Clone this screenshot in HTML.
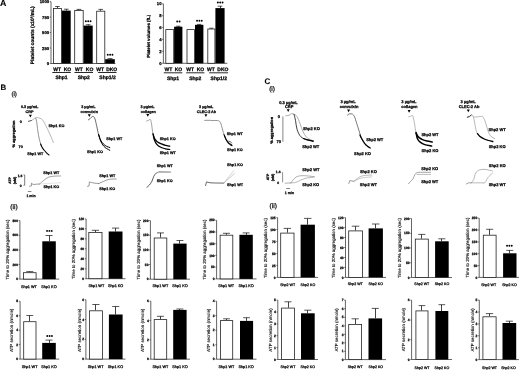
<!DOCTYPE html>
<html><head><meta charset="utf-8"><title>Figure</title>
<style>
html,body{margin:0;padding:0;background:#fff;width:520px;height:370px;overflow:hidden}
svg{display:block;will-change:transform;filter:blur(0.35px)}
text{font-family:"Liberation Sans", sans-serif;stroke:#000;stroke-width:0.25px;stroke-linejoin:round;text-rendering:geometricPrecision}
</style></head>
<body>
<svg width="520" height="370" viewBox="0 0 520 370" style='font-family:"Liberation Sans", sans-serif'>
<rect x="0" y="0" width="520" height="370" fill="#fff"/>
<text x="3.1" y="6.17" font-size="8.8" text-anchor="middle" font-weight="bold" fill="#000" style="stroke-width:0.1px">A</text>
<line x1="51" y1="1.6" x2="51" y2="63.5" stroke="#222" stroke-width="0.7"/>
<line x1="51" y1="63.5" x2="115.4" y2="63.5" stroke="#222" stroke-width="0.7"/>
<line x1="49.7" y1="1.6" x2="51" y2="1.6" stroke="#222" stroke-width="0.6"/>
<text x="49.1" y="3.11" font-size="4.2" text-anchor="end" font-weight="bold" fill="#000">1000</text>
<line x1="49.7" y1="17" x2="51" y2="17" stroke="#222" stroke-width="0.6"/>
<text x="49.1" y="18.51" font-size="4.2" text-anchor="end" font-weight="bold" fill="#000">750</text>
<line x1="49.7" y1="32.5" x2="51" y2="32.5" stroke="#222" stroke-width="0.6"/>
<text x="49.1" y="34.01" font-size="4.2" text-anchor="end" font-weight="bold" fill="#000">500</text>
<line x1="49.7" y1="48" x2="51" y2="48" stroke="#222" stroke-width="0.6"/>
<text x="49.1" y="49.51" font-size="4.2" text-anchor="end" font-weight="bold" fill="#000">250</text>
<line x1="49.7" y1="63.5" x2="51" y2="63.5" stroke="#222" stroke-width="0.6"/>
<text x="49.1" y="65.01" font-size="4.2" text-anchor="end" font-weight="bold" fill="#000">0</text>
<line x1="57.5" y1="6.5" x2="57.5" y2="8.1" stroke="#111" stroke-width="0.8"/>
<line x1="55.19" y1="6.5" x2="59.71" y2="6.5" stroke="#111" stroke-width="0.7"/>
<rect x="53.5" y="8.5" width="7.9" height="55" fill="#fff" stroke="#222" stroke-width="0.8"/>
<line x1="66.5" y1="9.2" x2="66.5" y2="10.6" stroke="#111" stroke-width="0.8"/>
<line x1="63.94" y1="9.2" x2="68.56" y2="9.2" stroke="#111" stroke-width="0.7"/>
<rect x="61.8" y="10.6" width="8.9" height="52.9" fill="#000"/>
<line x1="78.5" y1="9.4" x2="78.5" y2="10.1" stroke="#111" stroke-width="0.8"/>
<line x1="76.53" y1="9.4" x2="81.37" y2="9.4" stroke="#111" stroke-width="0.7"/>
<rect x="74.7" y="10.5" width="8.5" height="53" fill="#fff" stroke="#222" stroke-width="0.8"/>
<line x1="88.5" y1="24.7" x2="88.5" y2="25.6" stroke="#111" stroke-width="0.8"/>
<line x1="85.78" y1="24.7" x2="90.52" y2="24.7" stroke="#111" stroke-width="0.7"/>
<rect x="83.6" y="25.6" width="9.1" height="37.9" fill="#000"/>
<line x1="100.5" y1="9.4" x2="100.5" y2="10.8" stroke="#111" stroke-width="0.8"/>
<line x1="98.44" y1="9.4" x2="103.06" y2="9.4" stroke="#111" stroke-width="0.7"/>
<rect x="96.7" y="11.2" width="8.1" height="52.3" fill="#fff" stroke="#222" stroke-width="0.8"/>
<line x1="110.5" y1="58.6" x2="110.5" y2="59.2" stroke="#111" stroke-width="0.8"/>
<line x1="107.5" y1="58.6" x2="112.5" y2="58.6" stroke="#111" stroke-width="0.7"/>
<rect x="105.2" y="59.2" width="9.6" height="4.3" fill="#000"/>
<circle cx="85.85" cy="21.3" r="0.95" fill="#000"/>
<circle cx="88.2" cy="21.3" r="0.95" fill="#000"/>
<circle cx="90.55" cy="21.3" r="0.95" fill="#000"/>
<circle cx="107.75" cy="54.7" r="0.95" fill="#000"/>
<circle cx="110.1" cy="54.7" r="0.95" fill="#000"/>
<circle cx="112.45" cy="54.7" r="0.95" fill="#000"/>
<text transform="translate(34.16 35.2) rotate(-90)" x="0" y="0" font-size="4.9" text-anchor="middle" font-weight="bold" fill="#000">Platelet counts (x10³/mL)</text>
<line x1="163.4" y1="3.8" x2="163.4" y2="63.3" stroke="#222" stroke-width="0.7"/>
<line x1="163.4" y1="63.3" x2="227.3" y2="63.3" stroke="#222" stroke-width="0.7"/>
<line x1="162.1" y1="3.8" x2="163.4" y2="3.8" stroke="#222" stroke-width="0.6"/>
<text x="161.5" y="5.31" font-size="4.2" text-anchor="end" font-weight="bold" fill="#000">10</text>
<line x1="162.1" y1="15.7" x2="163.4" y2="15.7" stroke="#222" stroke-width="0.6"/>
<text x="161.5" y="17.21" font-size="4.2" text-anchor="end" font-weight="bold" fill="#000">8</text>
<line x1="162.1" y1="27.5" x2="163.4" y2="27.5" stroke="#222" stroke-width="0.6"/>
<text x="161.5" y="29.01" font-size="4.2" text-anchor="end" font-weight="bold" fill="#000">6</text>
<line x1="162.1" y1="39.4" x2="163.4" y2="39.4" stroke="#222" stroke-width="0.6"/>
<text x="161.5" y="40.91" font-size="4.2" text-anchor="end" font-weight="bold" fill="#000">4</text>
<line x1="162.1" y1="51.3" x2="163.4" y2="51.3" stroke="#222" stroke-width="0.6"/>
<text x="161.5" y="52.81" font-size="4.2" text-anchor="end" font-weight="bold" fill="#000">2</text>
<line x1="162.1" y1="63.3" x2="163.4" y2="63.3" stroke="#222" stroke-width="0.6"/>
<text x="161.5" y="64.81" font-size="4.2" text-anchor="end" font-weight="bold" fill="#000">0</text>
<rect x="165.8" y="29.6" width="7.9" height="33.7" fill="#fff" stroke="#222" stroke-width="0.8"/>
<line x1="178.5" y1="26.2" x2="178.5" y2="26.7" stroke="#111" stroke-width="0.8"/>
<line x1="176.09" y1="26.2" x2="180.41" y2="26.2" stroke="#111" stroke-width="0.7"/>
<rect x="174.1" y="26.7" width="8.3" height="36.6" fill="#000"/>
<rect x="187" y="29.6" width="7.5" height="33.7" fill="#fff" stroke="#222" stroke-width="0.8"/>
<line x1="199.5" y1="24.4" x2="199.5" y2="24.8" stroke="#111" stroke-width="0.8"/>
<line x1="197.02" y1="24.4" x2="201.38" y2="24.4" stroke="#111" stroke-width="0.7"/>
<rect x="195" y="24.8" width="8.4" height="38.5" fill="#000"/>
<line x1="211.5" y1="28.2" x2="211.5" y2="28.6" stroke="#111" stroke-width="0.8"/>
<line x1="209.3" y1="28.2" x2="213.4" y2="28.2" stroke="#111" stroke-width="0.7"/>
<rect x="207.8" y="29" width="7.1" height="34.3" fill="#fff" stroke="#222" stroke-width="0.8"/>
<line x1="220.5" y1="6.2" x2="220.5" y2="8.1" stroke="#111" stroke-width="0.8"/>
<line x1="217.61" y1="6.2" x2="222.39" y2="6.2" stroke="#111" stroke-width="0.7"/>
<rect x="215.4" y="8.1" width="9.2" height="55.2" fill="#000"/>
<circle cx="177.22" cy="21.5" r="0.95" fill="#000"/>
<circle cx="179.58" cy="21.5" r="0.95" fill="#000"/>
<circle cx="197.05" cy="20.8" r="0.95" fill="#000"/>
<circle cx="199.4" cy="20.8" r="0.95" fill="#000"/>
<circle cx="201.75" cy="20.8" r="0.95" fill="#000"/>
<circle cx="217.85" cy="2.5" r="0.95" fill="#000"/>
<circle cx="220.2" cy="2.5" r="0.95" fill="#000"/>
<circle cx="222.55" cy="2.5" r="0.95" fill="#000"/>
<text transform="translate(150.18 36.3) rotate(-90)" x="0" y="0" font-size="4.4" text-anchor="middle" font-weight="bold" fill="#000">Platelet volumes (fL)</text>
<text x="57.1" y="70.8" font-size="5" text-anchor="middle" font-weight="bold" fill="#000">WT</text>
<text x="67.5" y="70.8" font-size="5" text-anchor="middle" font-weight="bold" fill="#000">KO</text>
<text x="79" y="70.8" font-size="5" text-anchor="middle" font-weight="bold" fill="#000">WT</text>
<text x="89.6" y="70.8" font-size="5" text-anchor="middle" font-weight="bold" fill="#000">KO</text>
<text x="100.2" y="70.8" font-size="5" text-anchor="middle" font-weight="bold" fill="#000">WT</text>
<text x="111.7" y="70.8" font-size="5" text-anchor="middle" font-weight="bold" fill="#000">DKO</text>
<line x1="52.3" y1="72.5" x2="70.8" y2="72.5" stroke="#111" stroke-width="0.9"/>
<line x1="74.5" y1="72.5" x2="93" y2="72.5" stroke="#111" stroke-width="0.9"/>
<line x1="98.1" y1="72.5" x2="116.5" y2="72.5" stroke="#111" stroke-width="0.9"/>
<text x="61.5" y="79.3" font-size="5" text-anchor="middle" font-weight="bold" fill="#000">Shp1</text>
<text x="83.8" y="79.3" font-size="5" text-anchor="middle" font-weight="bold" fill="#000">Shp2</text>
<text x="107.5" y="79.3" font-size="5" text-anchor="middle" font-weight="bold" fill="#000">Shp1/2</text>
<text x="168.5" y="70.7" font-size="5" text-anchor="middle" font-weight="bold" fill="#000">WT</text>
<text x="178.5" y="70.7" font-size="5" text-anchor="middle" font-weight="bold" fill="#000">KO</text>
<text x="190.2" y="70.7" font-size="5" text-anchor="middle" font-weight="bold" fill="#000">WT</text>
<text x="200.5" y="70.7" font-size="5" text-anchor="middle" font-weight="bold" fill="#000">KO</text>
<text x="211" y="70.7" font-size="5" text-anchor="middle" font-weight="bold" fill="#000">WT</text>
<text x="222.9" y="70.7" font-size="5" text-anchor="middle" font-weight="bold" fill="#000">DKO</text>
<line x1="163.8" y1="72.8" x2="182.3" y2="72.8" stroke="#111" stroke-width="0.9"/>
<line x1="186.2" y1="72.8" x2="204.4" y2="72.8" stroke="#111" stroke-width="0.9"/>
<line x1="209.2" y1="72.8" x2="228.1" y2="72.8" stroke="#111" stroke-width="0.9"/>
<text x="173" y="79.5" font-size="5" text-anchor="middle" font-weight="bold" fill="#000">Shp1</text>
<text x="195.3" y="79.5" font-size="5" text-anchor="middle" font-weight="bold" fill="#000">Shp2</text>
<text x="218.8" y="79.5" font-size="5" text-anchor="middle" font-weight="bold" fill="#000">Shp1/2</text>
<text x="3.45" y="89.64" font-size="7.9" text-anchor="middle" font-weight="bold" fill="#000" style="stroke-width:0.1px">B</text>
<text x="14.2" y="96.21" font-size="6.2" text-anchor="middle" font-weight="normal" fill="#222" style="stroke:#222;stroke-width:0.3px">(i)</text>
<text x="29.6" y="108.25" font-size="3.75" text-anchor="middle" font-weight="bold" fill="#000">0.3 µg/mL</text>
<text x="29.5" y="112.95" font-size="3.75" text-anchor="middle" font-weight="bold" fill="#000">CRP</text>
<path d="M28.9 114.85 L31.9 114.85 L30.4 117.55 Z" fill="#000"/>
<text x="20.7" y="122.85" font-size="3.75" text-anchor="middle" font-weight="bold" fill="#000">0</text>
<text x="20.7" y="147.55" font-size="3.75" text-anchor="middle" font-weight="bold" fill="#000">70</text>
<text transform="translate(14.7 134) rotate(-90)" x="0" y="0" font-size="3.9" text-anchor="middle" font-weight="bold" fill="#000">% aggregation</text>
<path d="M28.5 121.3 L31.6 120.5" fill="none" stroke="#222" stroke-width="0.8" stroke-linecap="round" stroke-linejoin="round"/>
<path d="M31.6 120.5 C32.08 120.18 33.57 119.08 34.5 118.6 C35.43 118.12 36.28 117.65 37.2 117.6 C38.12 117.55 39.17 117.98 40 118.3 C40.83 118.62 41.45 118.72 42.2 119.5 C42.95 120.28 43.78 121.75 44.5 123 C45.22 124.25 45.53 125 46.5 127 C47.47 129 49.15 132.42 50.3 135 C51.45 137.58 52.88 141.25 53.4 142.5" fill="none" stroke="#999" stroke-width="0.7" stroke-linecap="round" stroke-linejoin="round"/>
<path d="M35.5 118 C35.68 118.55 36.22 119.18 36.6 121.3 C36.98 123.42 37.38 127.88 37.8 130.7 C38.22 133.52 38.57 135.82 39.1 138.2 C39.63 140.58 40.68 143.87 41 145" fill="none" stroke="#666" stroke-width="0.7" stroke-linecap="round" stroke-linejoin="round"/>
<path d="M40.6 144 C40.87 144.6 41.63 146.6 42.2 147.6 C42.77 148.6 43.28 149.13 44 150 C44.72 150.87 45.67 151.97 46.5 152.8 C47.33 153.63 48.58 154.63 49 155" fill="none" stroke="#000" stroke-width="1.1" stroke-linecap="round" stroke-linejoin="round"/>
<text x="56.4" y="126.95" font-size="3.75" text-anchor="middle" font-weight="bold" fill="#000">Shp1 KO</text>
<text x="35.3" y="154.75" font-size="3.75" text-anchor="middle" font-weight="bold" fill="#000">Shp1 WT</text>
<text x="88.3" y="108.35" font-size="3.75" text-anchor="middle" font-weight="bold" fill="#000">3 µg/mL</text>
<text x="89.2" y="112.95" font-size="3.75" text-anchor="middle" font-weight="bold" fill="#000">convulxin</text>
<path d="M87.8 114.25 L90.8 114.25 L89.3 116.95 Z" fill="#000"/>
<path d="M88.3 119.9 C88.62 119.68 89.48 119.18 90.2 118.6 C90.92 118.02 91.87 116.52 92.6 116.4 C93.33 116.28 93.97 116.53 94.6 117.9 C95.23 119.27 95.8 122.07 96.4 124.6 C97 127.13 97.67 130.95 98.2 133.1 C98.73 135.25 99.37 136.77 99.6 137.5" fill="none" stroke="#444" stroke-width="0.8" stroke-linecap="round" stroke-linejoin="round"/>
<path d="M98.6 134.5 C98.95 135.45 99.88 138.6 100.7 140.2 C101.52 141.8 102.53 143.08 103.5 144.1 C104.47 145.12 105.45 145.73 106.5 146.3 C107.55 146.87 109.25 147.3 109.8 147.5" fill="none" stroke="#000" stroke-width="1" stroke-linecap="round" stroke-linejoin="round"/>
<path d="M98.6 134.5 C98.93 135.58 99.77 139.08 100.6 141 C101.43 142.92 102.58 144.73 103.6 146 C104.62 147.27 105.67 147.88 106.7 148.6 C107.73 149.32 109.28 150.02 109.8 150.3" fill="none" stroke="#000" stroke-width="1" stroke-linecap="round" stroke-linejoin="round"/>
<text x="114.2" y="139.75" font-size="3.75" text-anchor="middle" font-weight="bold" fill="#000">Shp1 WT</text>
<text x="94.9" y="153.45" font-size="3.75" text-anchor="middle" font-weight="bold" fill="#000">Shp1 KO</text>
<text x="147.5" y="108.35" font-size="3.75" text-anchor="middle" font-weight="bold" fill="#000">3 µg/mL</text>
<text x="148.3" y="112.65" font-size="3.75" text-anchor="middle" font-weight="bold" fill="#000">collagen</text>
<path d="M146.3 114.05 L149.3 114.05 L147.8 116.75 Z" fill="#000"/>
<path d="M146.7 121 C147.02 120.88 148 120.57 148.6 120.3 C149.2 120.03 149.85 119.03 150.3 119.4 C150.75 119.77 151.03 121.32 151.3 122.5 C151.57 123.68 151.65 124.73 151.9 126.5 C152.15 128.27 152.48 131.43 152.8 133.1 C153.12 134.77 153.63 135.93 153.8 136.5" fill="none" stroke="#777" stroke-width="0.7" stroke-linecap="round" stroke-linejoin="round"/>
<path d="M153 133.5 C153.2 134.5 153.57 137.7 154.2 139.5 C154.83 141.3 155.7 143 156.8 144.3 C157.9 145.6 159.38 146.55 160.8 147.3 C162.22 148.05 163.8 148.43 165.3 148.8 C166.8 149.17 169.05 149.38 169.8 149.5" fill="none" stroke="#000" stroke-width="1.2" stroke-linecap="round" stroke-linejoin="round"/>
<path d="M153.3 134.5 C153.52 135.18 153.95 137.4 154.6 138.6 C155.25 139.8 156.05 140.82 157.2 141.7 C158.35 142.58 160.12 143.28 161.5 143.9 C162.88 144.52 164.12 145.02 165.5 145.4 C166.88 145.78 169.08 146.07 169.8 146.2" fill="none" stroke="#000" stroke-width="1.2" stroke-linecap="round" stroke-linejoin="round"/>
<text x="167.7" y="140.35" font-size="3.75" text-anchor="middle" font-weight="bold" fill="#000">Shp1 KO</text>
<text x="167.7" y="153.95" font-size="3.75" text-anchor="middle" font-weight="bold" fill="#000">Shp1 WT</text>
<text x="206.2" y="108.35" font-size="3.75" text-anchor="middle" font-weight="bold" fill="#000">3 µg/mL</text>
<text x="206.4" y="112.65" font-size="3.75" text-anchor="middle" font-weight="bold" fill="#000">CLEC-2 Ab</text>
<path d="M204.4 114.25 L207.4 114.25 L205.9 116.95 Z" fill="#000"/>
<path d="M204.7 120.4 C205.25 120.38 206.62 120.28 208 120.3 C209.38 120.32 211.22 120.42 213 120.5 C214.78 120.58 217.4 120.3 218.7 120.8 C220 121.3 220.25 122.38 220.8 123.5 C221.35 124.62 221.57 126 222 127.5 C222.43 129 222.97 131.08 223.4 132.5 C223.83 133.92 224.4 135.42 224.6 136" fill="none" stroke="#777" stroke-width="0.8" stroke-linecap="round" stroke-linejoin="round"/>
<path d="M224 134.5 C224.23 135.08 224.82 136.83 225.4 138 C225.98 139.17 226.77 140.57 227.5 141.5 C228.23 142.43 229.05 143.02 229.8 143.6 C230.55 144.18 231.63 144.77 232 145" fill="none" stroke="#111" stroke-width="1" stroke-linecap="round" stroke-linejoin="round"/>
<path d="M224.4 135.5 C224.7 136.22 225.5 138.48 226.2 139.8 C226.9 141.12 227.65 142.43 228.6 143.4 C229.55 144.37 231.35 145.23 231.9 145.6" fill="none" stroke="#000" stroke-width="1.1" stroke-linecap="round" stroke-linejoin="round"/>
<path d="M228.5 141.2 L230.4 141.6 L231.6 143" fill="none" stroke="#000" stroke-width="0.6" stroke-linecap="round" stroke-linejoin="round"/>
<text x="234.7" y="135.05" font-size="3.75" text-anchor="middle" font-weight="bold" fill="#000">Shp1 WT</text>
<text x="234.8" y="150.85" font-size="3.75" text-anchor="middle" font-weight="bold" fill="#000">Shp1 KO</text>
<text transform="translate(11.42 180.5) rotate(-90)" x="0" y="0" font-size="3.4" text-anchor="middle" font-weight="bold" fill="#000">ATP</text>
<text transform="translate(16.2 180.5) rotate(-90)" x="0" y="0" font-size="3.6" text-anchor="middle" font-weight="bold" fill="#000">(nM)</text>
<text x="20.1" y="176.52" font-size="3.4" text-anchor="middle" font-weight="bold" fill="#000">1.6</text>
<text x="20.6" y="186.82" font-size="3.4" text-anchor="middle" font-weight="bold" fill="#000">0</text>
<line x1="24.7" y1="174.9" x2="24.7" y2="185.3" stroke="#222" stroke-width="0.6"/>
<line x1="23.4" y1="174.9" x2="24.7" y2="174.9" stroke="#222" stroke-width="0.5"/>
<line x1="23.4" y1="185.3" x2="24.7" y2="185.3" stroke="#222" stroke-width="0.5"/>
<line x1="27.9" y1="191.5" x2="31.4" y2="191.5" stroke="#333" stroke-width="0.6"/>
<text x="31" y="196.96" font-size="3.5" text-anchor="middle" font-weight="bold" fill="#000">1 min</text>
<path d="M29.5 186.2 L31.4 186 L31.5 183.2 L33.1 184.5 L36.5 184.2 L39.6 184" fill="none" stroke="#555" stroke-width="0.6" stroke-linecap="round" stroke-linejoin="round"/>
<path d="M39.6 184 C40.28 183.4 42.22 181.53 43.7 180.4 C45.18 179.27 46.78 177.9 48.5 177.2 C50.22 176.5 51.97 176.4 54 176.2 C56.03 176 59.58 176.03 60.7 176" fill="none" stroke="#666" stroke-width="0.6" stroke-linecap="round" stroke-linejoin="round"/>
<path d="M39.6 184 C40.95 183.92 44.18 183.7 47.7 183.5 C51.22 183.3 58.53 182.92 60.7 182.8" fill="none" stroke="#c8c8c8" stroke-width="0.5" stroke-linecap="round" stroke-linejoin="round"/>
<text x="51.3" y="174.05" font-size="3.75" text-anchor="middle" font-weight="bold" fill="#000">Shp1 WT</text>
<text x="51.3" y="188.35" font-size="3.75" text-anchor="middle" font-weight="bold" fill="#000">Shp1 KO</text>
<path d="M87.5 186.3 L89 186 L89.4 181.9 L91.3 182.5 L95 183.2 L98.8 183.5" fill="none" stroke="#555" stroke-width="0.6" stroke-linecap="round" stroke-linejoin="round"/>
<path d="M98.8 183.5 C99.63 183.13 102.13 181.98 103.8 181.3 C105.47 180.62 106.72 179.78 108.8 179.4 C110.88 179.02 115.05 179.07 116.3 179" fill="none" stroke="#555" stroke-width="0.6" stroke-linecap="round" stroke-linejoin="round"/>
<text x="107.2" y="177.35" font-size="3.75" text-anchor="middle" font-weight="bold" fill="#000">Shp1 WT</text>
<text x="107.2" y="189.85" font-size="3.75" text-anchor="middle" font-weight="bold" fill="#000">Shp1 KO</text>
<path d="M146.9 187.3 C147.32 186.92 148.57 186 149.4 185 C150.23 184 151.17 182.75 151.9 181.3 C152.63 179.85 153.07 177.67 153.8 176.3 C154.53 174.93 155.27 173.83 156.3 173.1 C157.33 172.37 158.55 172.08 160 171.9 C161.45 171.72 163.23 171.93 165 172 C166.77 172.07 169.67 172.25 170.6 172.3" fill="none" stroke="#333" stroke-width="0.8" stroke-linecap="round" stroke-linejoin="round"/>
<path d="M158 172.5 C158.67 172.42 159.9 172.03 162 172 C164.1 171.97 169.17 172.25 170.6 172.3" fill="none" stroke="#bbb" stroke-width="1.4" stroke-linecap="round" stroke-linejoin="round"/>
<text x="164.7" y="167.35" font-size="3.75" text-anchor="middle" font-weight="bold" fill="#000">Shp1 WT</text>
<text x="164.7" y="182.35" font-size="3.75" text-anchor="middle" font-weight="bold" fill="#000">Shp1 KO</text>
<path d="M205.6 185.6 L206.5 181.9 L210 182.8 L216 183 L223.8 183.1" fill="none" stroke="#444" stroke-width="0.8" stroke-linecap="round" stroke-linejoin="round"/>
<path d="M223.8 183.1 L228.5 177 L233.8 170.6" fill="none" stroke="#aaa" stroke-width="0.5" stroke-linecap="round" stroke-linejoin="round"/>
<path d="M223.8 183.1 L229 178.3 L234.4 173.5" fill="none" stroke="#999" stroke-width="0.5" stroke-linecap="round" stroke-linejoin="round"/>
<text x="235" y="166.15" font-size="3.75" text-anchor="middle" font-weight="bold" fill="#000">Shp1 KO</text>
<text x="235" y="186.15" font-size="3.75" text-anchor="middle" font-weight="bold" fill="#000">Shp1 WT</text>
<text x="13.95" y="209.42" font-size="6.6" text-anchor="middle" font-weight="normal" fill="#222" style="stroke:#222;stroke-width:0.3px">(ii)</text>
<line x1="19.9" y1="220.6" x2="19.9" y2="279.1" stroke="#222" stroke-width="0.7"/>
<line x1="19.9" y1="279.1" x2="59.2" y2="279.1" stroke="#222" stroke-width="0.7"/>
<line x1="18.6" y1="220.6" x2="19.9" y2="220.6" stroke="#222" stroke-width="0.6"/>
<text x="18" y="221.79" font-size="3.3" text-anchor="end" font-weight="bold" fill="#000">800</text>
<line x1="18.6" y1="235.3" x2="19.9" y2="235.3" stroke="#222" stroke-width="0.6"/>
<text x="18" y="236.49" font-size="3.3" text-anchor="end" font-weight="bold" fill="#000">600</text>
<line x1="18.6" y1="249.9" x2="19.9" y2="249.9" stroke="#222" stroke-width="0.6"/>
<text x="18" y="251.09" font-size="3.3" text-anchor="end" font-weight="bold" fill="#000">400</text>
<line x1="18.6" y1="264.5" x2="19.9" y2="264.5" stroke="#222" stroke-width="0.6"/>
<text x="18" y="265.69" font-size="3.3" text-anchor="end" font-weight="bold" fill="#000">200</text>
<line x1="18.6" y1="279.1" x2="19.9" y2="279.1" stroke="#222" stroke-width="0.6"/>
<text x="18" y="280.29" font-size="3.3" text-anchor="end" font-weight="bold" fill="#000">0</text>
<line x1="29.5" y1="271.6" x2="29.5" y2="272.3" stroke="#111" stroke-width="0.8"/>
<line x1="26.32" y1="271.6" x2="33.28" y2="271.6" stroke="#111" stroke-width="0.7"/>
<rect x="23.5" y="272.7" width="12.6" height="6.4" fill="#fff" stroke="#222" stroke-width="0.8"/>
<line x1="49.5" y1="235.5" x2="49.5" y2="241.3" stroke="#111" stroke-width="0.8"/>
<line x1="45.54" y1="235.5" x2="52.56" y2="235.5" stroke="#111" stroke-width="0.7"/>
<rect x="42.3" y="241.3" width="13.5" height="37.8" fill="#000"/>
<circle cx="47.05" cy="230.9" r="0.95" fill="#000"/>
<circle cx="49.4" cy="230.9" r="0.95" fill="#000"/>
<circle cx="51.75" cy="230.9" r="0.95" fill="#000"/>
<text transform="translate(9.48 249.5) rotate(-90)" x="0" y="0" font-size="4.4" text-anchor="middle" font-weight="normal" fill="#000" style="stroke-width:0.12px">Time to 20% aggregation (sec)</text>
<text x="28.9" y="287.67" font-size="3.8" text-anchor="middle" font-weight="normal" fill="#000">Shp1 WT</text>
<text x="48.9" y="287.67" font-size="3.8" text-anchor="middle" font-weight="normal" fill="#000">Shp1 KO</text>
<line x1="86.1" y1="218.9" x2="86.1" y2="278.7" stroke="#222" stroke-width="0.7"/>
<line x1="86.1" y1="278.7" x2="125.5" y2="278.7" stroke="#222" stroke-width="0.7"/>
<line x1="84.8" y1="218.9" x2="86.1" y2="218.9" stroke="#222" stroke-width="0.6"/>
<text x="84.2" y="220.09" font-size="3.3" text-anchor="end" font-weight="bold" fill="#000">120</text>
<line x1="84.8" y1="228.9" x2="86.1" y2="228.9" stroke="#222" stroke-width="0.6"/>
<text x="84.2" y="230.09" font-size="3.3" text-anchor="end" font-weight="bold" fill="#000">100</text>
<line x1="84.8" y1="238.8" x2="86.1" y2="238.8" stroke="#222" stroke-width="0.6"/>
<text x="84.2" y="239.99" font-size="3.3" text-anchor="end" font-weight="bold" fill="#000">80</text>
<line x1="84.8" y1="248.8" x2="86.1" y2="248.8" stroke="#222" stroke-width="0.6"/>
<text x="84.2" y="249.99" font-size="3.3" text-anchor="end" font-weight="bold" fill="#000">60</text>
<line x1="84.8" y1="258.8" x2="86.1" y2="258.8" stroke="#222" stroke-width="0.6"/>
<text x="84.2" y="259.99" font-size="3.3" text-anchor="end" font-weight="bold" fill="#000">40</text>
<line x1="84.8" y1="268.8" x2="86.1" y2="268.8" stroke="#222" stroke-width="0.6"/>
<text x="84.2" y="269.99" font-size="3.3" text-anchor="end" font-weight="bold" fill="#000">20</text>
<line x1="84.8" y1="278.7" x2="86.1" y2="278.7" stroke="#222" stroke-width="0.6"/>
<text x="84.2" y="279.89" font-size="3.3" text-anchor="end" font-weight="bold" fill="#000">0</text>
<line x1="95.5" y1="230.3" x2="95.5" y2="232" stroke="#111" stroke-width="0.8"/>
<line x1="91.76" y1="230.3" x2="99.04" y2="230.3" stroke="#111" stroke-width="0.7"/>
<rect x="88.8" y="232.4" width="13.2" height="46.3" fill="#fff" stroke="#222" stroke-width="0.8"/>
<line x1="115.5" y1="228.1" x2="115.5" y2="231.5" stroke="#111" stroke-width="0.8"/>
<line x1="112.01" y1="228.1" x2="119.19" y2="228.1" stroke="#111" stroke-width="0.7"/>
<rect x="108.7" y="231.5" width="13.8" height="47.2" fill="#000"/>
<text transform="translate(75.08 249) rotate(-90)" x="0" y="0" font-size="4.4" text-anchor="middle" font-weight="normal" fill="#000" style="stroke-width:0.12px">Time to 20% aggregation (sec)</text>
<text x="96.3" y="286.97" font-size="3.8" text-anchor="middle" font-weight="normal" fill="#000">Shp1 WT</text>
<text x="115.6" y="286.97" font-size="3.8" text-anchor="middle" font-weight="normal" fill="#000">Shp1 KO</text>
<line x1="150.4" y1="220.6" x2="150.4" y2="279.2" stroke="#222" stroke-width="0.7"/>
<line x1="150.4" y1="279.2" x2="190" y2="279.2" stroke="#222" stroke-width="0.7"/>
<line x1="149.1" y1="220.6" x2="150.4" y2="220.6" stroke="#222" stroke-width="0.6"/>
<text x="148.5" y="221.79" font-size="3.3" text-anchor="end" font-weight="bold" fill="#000">200</text>
<line x1="149.1" y1="235.2" x2="150.4" y2="235.2" stroke="#222" stroke-width="0.6"/>
<text x="148.5" y="236.39" font-size="3.3" text-anchor="end" font-weight="bold" fill="#000">150</text>
<line x1="149.1" y1="249.9" x2="150.4" y2="249.9" stroke="#222" stroke-width="0.6"/>
<text x="148.5" y="251.09" font-size="3.3" text-anchor="end" font-weight="bold" fill="#000">100</text>
<line x1="149.1" y1="264.5" x2="150.4" y2="264.5" stroke="#222" stroke-width="0.6"/>
<text x="148.5" y="265.69" font-size="3.3" text-anchor="end" font-weight="bold" fill="#000">50</text>
<line x1="149.1" y1="279.2" x2="150.4" y2="279.2" stroke="#222" stroke-width="0.6"/>
<text x="148.5" y="280.39" font-size="3.3" text-anchor="end" font-weight="bold" fill="#000">0</text>
<line x1="160.5" y1="232.9" x2="160.5" y2="237.6" stroke="#111" stroke-width="0.8"/>
<line x1="157.02" y1="232.9" x2="163.98" y2="232.9" stroke="#111" stroke-width="0.7"/>
<rect x="154.2" y="238" width="12.6" height="41.2" fill="#fff" stroke="#222" stroke-width="0.8"/>
<line x1="179.5" y1="240.5" x2="179.5" y2="243.6" stroke="#111" stroke-width="0.8"/>
<line x1="176.49" y1="240.5" x2="183.41" y2="240.5" stroke="#111" stroke-width="0.7"/>
<rect x="173.3" y="243.6" width="13.3" height="35.6" fill="#000"/>
<text transform="translate(139.98 249.5) rotate(-90)" x="0" y="0" font-size="4.4" text-anchor="middle" font-weight="normal" fill="#000" style="stroke-width:0.12px">Time to 20% aggregation (sec)</text>
<text x="160.3" y="287.17" font-size="3.8" text-anchor="middle" font-weight="normal" fill="#000">Shp1 WT</text>
<text x="180" y="287.17" font-size="3.8" text-anchor="middle" font-weight="normal" fill="#000">Shp1 KO</text>
<line x1="216.6" y1="220.3" x2="216.6" y2="278.9" stroke="#222" stroke-width="0.7"/>
<line x1="216.6" y1="278.9" x2="256.5" y2="278.9" stroke="#222" stroke-width="0.7"/>
<line x1="215.3" y1="220.3" x2="216.6" y2="220.3" stroke="#222" stroke-width="0.6"/>
<text x="214.7" y="221.49" font-size="3.3" text-anchor="end" font-weight="bold" fill="#000">250</text>
<line x1="215.3" y1="232" x2="216.6" y2="232" stroke="#222" stroke-width="0.6"/>
<text x="214.7" y="233.19" font-size="3.3" text-anchor="end" font-weight="bold" fill="#000">200</text>
<line x1="215.3" y1="243.7" x2="216.6" y2="243.7" stroke="#222" stroke-width="0.6"/>
<text x="214.7" y="244.89" font-size="3.3" text-anchor="end" font-weight="bold" fill="#000">150</text>
<line x1="215.3" y1="255.4" x2="216.6" y2="255.4" stroke="#222" stroke-width="0.6"/>
<text x="214.7" y="256.59" font-size="3.3" text-anchor="end" font-weight="bold" fill="#000">100</text>
<line x1="215.3" y1="267.2" x2="216.6" y2="267.2" stroke="#222" stroke-width="0.6"/>
<text x="214.7" y="268.39" font-size="3.3" text-anchor="end" font-weight="bold" fill="#000">50</text>
<line x1="215.3" y1="278.9" x2="216.6" y2="278.9" stroke="#222" stroke-width="0.6"/>
<text x="214.7" y="280.09" font-size="3.3" text-anchor="end" font-weight="bold" fill="#000">0</text>
<line x1="226.5" y1="233.3" x2="226.5" y2="234.8" stroke="#111" stroke-width="0.8"/>
<line x1="222.94" y1="233.3" x2="229.96" y2="233.3" stroke="#111" stroke-width="0.7"/>
<rect x="220.1" y="235.2" width="12.7" height="43.7" fill="#fff" stroke="#222" stroke-width="0.8"/>
<line x1="246.5" y1="232.9" x2="246.5" y2="234.8" stroke="#111" stroke-width="0.8"/>
<line x1="242.62" y1="232.9" x2="249.58" y2="232.9" stroke="#111" stroke-width="0.7"/>
<rect x="239.4" y="234.8" width="13.4" height="44.1" fill="#000"/>
<text transform="translate(205.98 249.5) rotate(-90)" x="0" y="0" font-size="4.4" text-anchor="middle" font-weight="normal" fill="#000" style="stroke-width:0.12px">Time to 20% aggregation (sec)</text>
<text x="226.2" y="287.17" font-size="3.8" text-anchor="middle" font-weight="normal" fill="#000">Shp1 WT</text>
<text x="246.1" y="287.17" font-size="3.8" text-anchor="middle" font-weight="normal" fill="#000">Shp1 KO</text>
<line x1="20.1" y1="301.3" x2="20.1" y2="359.1" stroke="#222" stroke-width="0.7"/>
<line x1="20.1" y1="359.1" x2="59.2" y2="359.1" stroke="#222" stroke-width="0.7"/>
<line x1="18.8" y1="301.3" x2="20.1" y2="301.3" stroke="#222" stroke-width="0.6"/>
<text x="18.2" y="302.49" font-size="3.3" text-anchor="end" font-weight="bold" fill="#000">8</text>
<line x1="18.8" y1="315.7" x2="20.1" y2="315.7" stroke="#222" stroke-width="0.6"/>
<text x="18.2" y="316.89" font-size="3.3" text-anchor="end" font-weight="bold" fill="#000">6</text>
<line x1="18.8" y1="330.2" x2="20.1" y2="330.2" stroke="#222" stroke-width="0.6"/>
<text x="18.2" y="331.39" font-size="3.3" text-anchor="end" font-weight="bold" fill="#000">4</text>
<line x1="18.8" y1="344.6" x2="20.1" y2="344.6" stroke="#222" stroke-width="0.6"/>
<text x="18.2" y="345.79" font-size="3.3" text-anchor="end" font-weight="bold" fill="#000">2</text>
<line x1="18.8" y1="359.1" x2="20.1" y2="359.1" stroke="#222" stroke-width="0.6"/>
<text x="18.2" y="360.29" font-size="3.3" text-anchor="end" font-weight="bold" fill="#000">0</text>
<line x1="29.5" y1="315.5" x2="29.5" y2="321.3" stroke="#111" stroke-width="0.8"/>
<line x1="26.44" y1="315.5" x2="33.26" y2="315.5" stroke="#111" stroke-width="0.7"/>
<rect x="23.7" y="321.7" width="12.3" height="37.4" fill="#fff" stroke="#222" stroke-width="0.8"/>
<line x1="49.5" y1="340.1" x2="49.5" y2="342.9" stroke="#111" stroke-width="0.8"/>
<line x1="45.46" y1="340.1" x2="52.54" y2="340.1" stroke="#111" stroke-width="0.7"/>
<rect x="42.2" y="342.9" width="13.6" height="16.2" fill="#000"/>
<circle cx="47.25" cy="336" r="0.95" fill="#000"/>
<circle cx="49.6" cy="336" r="0.95" fill="#000"/>
<circle cx="51.95" cy="336" r="0.95" fill="#000"/>
<text transform="translate(12.98 330.3) rotate(-90)" x="0" y="0" font-size="4.4" text-anchor="middle" font-weight="normal" fill="#000" style="stroke-width:0.12px">ATP secretion (nmole)</text>
<text x="29.6" y="368.47" font-size="3.8" text-anchor="middle" font-weight="normal" fill="#000">Shp1 WT</text>
<text x="49" y="368.47" font-size="3.8" text-anchor="middle" font-weight="normal" fill="#000">Shp1 KO</text>
<line x1="85.9" y1="299.7" x2="85.9" y2="359.1" stroke="#222" stroke-width="0.7"/>
<line x1="85.9" y1="359.1" x2="125.5" y2="359.1" stroke="#222" stroke-width="0.7"/>
<line x1="84.6" y1="299.7" x2="85.9" y2="299.7" stroke="#222" stroke-width="0.6"/>
<text x="84" y="300.89" font-size="3.3" text-anchor="end" font-weight="bold" fill="#000">6</text>
<line x1="84.6" y1="319.5" x2="85.9" y2="319.5" stroke="#222" stroke-width="0.6"/>
<text x="84" y="320.69" font-size="3.3" text-anchor="end" font-weight="bold" fill="#000">4</text>
<line x1="84.6" y1="339.3" x2="85.9" y2="339.3" stroke="#222" stroke-width="0.6"/>
<text x="84" y="340.49" font-size="3.3" text-anchor="end" font-weight="bold" fill="#000">2</text>
<line x1="84.6" y1="359.1" x2="85.9" y2="359.1" stroke="#222" stroke-width="0.6"/>
<text x="84" y="360.29" font-size="3.3" text-anchor="end" font-weight="bold" fill="#000">0</text>
<line x1="95.5" y1="304.5" x2="95.5" y2="310.4" stroke="#111" stroke-width="0.8"/>
<line x1="92.31" y1="304.5" x2="99.49" y2="304.5" stroke="#111" stroke-width="0.7"/>
<rect x="89.4" y="310.8" width="13" height="48.3" fill="#fff" stroke="#222" stroke-width="0.8"/>
<line x1="115.5" y1="306.5" x2="115.5" y2="314.5" stroke="#111" stroke-width="0.8"/>
<line x1="112.19" y1="306.5" x2="119.31" y2="306.5" stroke="#111" stroke-width="0.7"/>
<rect x="108.9" y="314.5" width="13.7" height="44.6" fill="#000"/>
<text transform="translate(80.58 330.3) rotate(-90)" x="0" y="0" font-size="4.4" text-anchor="middle" font-weight="normal" fill="#000" style="stroke-width:0.12px">ATP secretion (nmole)</text>
<text x="95.6" y="368.47" font-size="3.8" text-anchor="middle" font-weight="normal" fill="#000">Shp1 WT</text>
<text x="115.4" y="368.47" font-size="3.8" text-anchor="middle" font-weight="normal" fill="#000">Shp1 KO</text>
<line x1="150.8" y1="301.2" x2="150.8" y2="359.2" stroke="#222" stroke-width="0.7"/>
<line x1="150.8" y1="359.2" x2="190" y2="359.2" stroke="#222" stroke-width="0.7"/>
<line x1="149.5" y1="301.2" x2="150.8" y2="301.2" stroke="#222" stroke-width="0.6"/>
<text x="148.9" y="302.39" font-size="3.3" text-anchor="end" font-weight="bold" fill="#000">6</text>
<line x1="149.5" y1="320.5" x2="150.8" y2="320.5" stroke="#222" stroke-width="0.6"/>
<text x="148.9" y="321.69" font-size="3.3" text-anchor="end" font-weight="bold" fill="#000">4</text>
<line x1="149.5" y1="339.9" x2="150.8" y2="339.9" stroke="#222" stroke-width="0.6"/>
<text x="148.9" y="341.09" font-size="3.3" text-anchor="end" font-weight="bold" fill="#000">2</text>
<line x1="149.5" y1="359.2" x2="150.8" y2="359.2" stroke="#222" stroke-width="0.6"/>
<text x="148.9" y="360.39" font-size="3.3" text-anchor="end" font-weight="bold" fill="#000">0</text>
<line x1="160.5" y1="316.3" x2="160.5" y2="319.2" stroke="#111" stroke-width="0.8"/>
<line x1="156.99" y1="316.3" x2="163.91" y2="316.3" stroke="#111" stroke-width="0.7"/>
<rect x="154.2" y="319.6" width="12.5" height="39.6" fill="#fff" stroke="#222" stroke-width="0.8"/>
<line x1="179.5" y1="309" x2="179.5" y2="309.9" stroke="#111" stroke-width="0.8"/>
<line x1="176.42" y1="309" x2="183.38" y2="309" stroke="#111" stroke-width="0.7"/>
<rect x="173.2" y="309.9" width="13.4" height="49.3" fill="#000"/>
<text transform="translate(144.38 330.3) rotate(-90)" x="0" y="0" font-size="4.4" text-anchor="middle" font-weight="normal" fill="#000" style="stroke-width:0.12px">ATP secretion (nmole)</text>
<text x="160.5" y="368.47" font-size="3.8" text-anchor="middle" font-weight="normal" fill="#000">Shp1 WT</text>
<text x="180" y="368.47" font-size="3.8" text-anchor="middle" font-weight="normal" fill="#000">Shp1 KO</text>
<line x1="216.6" y1="301.2" x2="216.6" y2="359.2" stroke="#222" stroke-width="0.7"/>
<line x1="216.6" y1="359.2" x2="256.5" y2="359.2" stroke="#222" stroke-width="0.7"/>
<line x1="215.3" y1="301.2" x2="216.6" y2="301.2" stroke="#222" stroke-width="0.6"/>
<text x="214.7" y="302.39" font-size="3.3" text-anchor="end" font-weight="bold" fill="#000">4</text>
<line x1="215.3" y1="315.7" x2="216.6" y2="315.7" stroke="#222" stroke-width="0.6"/>
<text x="214.7" y="316.89" font-size="3.3" text-anchor="end" font-weight="bold" fill="#000">3</text>
<line x1="215.3" y1="330.2" x2="216.6" y2="330.2" stroke="#222" stroke-width="0.6"/>
<text x="214.7" y="331.39" font-size="3.3" text-anchor="end" font-weight="bold" fill="#000">2</text>
<line x1="215.3" y1="344.7" x2="216.6" y2="344.7" stroke="#222" stroke-width="0.6"/>
<text x="214.7" y="345.89" font-size="3.3" text-anchor="end" font-weight="bold" fill="#000">1</text>
<line x1="215.3" y1="359.2" x2="216.6" y2="359.2" stroke="#222" stroke-width="0.6"/>
<text x="214.7" y="360.39" font-size="3.3" text-anchor="end" font-weight="bold" fill="#000">0</text>
<line x1="226.5" y1="318.8" x2="226.5" y2="320.2" stroke="#111" stroke-width="0.8"/>
<line x1="223.14" y1="318.8" x2="229.96" y2="318.8" stroke="#111" stroke-width="0.7"/>
<rect x="220.4" y="320.6" width="12.3" height="38.6" fill="#fff" stroke="#222" stroke-width="0.8"/>
<line x1="246.5" y1="317.7" x2="246.5" y2="320.9" stroke="#111" stroke-width="0.8"/>
<line x1="243.14" y1="317.7" x2="249.96" y2="317.7" stroke="#111" stroke-width="0.7"/>
<rect x="240" y="320.9" width="13.1" height="38.3" fill="#000"/>
<text transform="translate(210.08 330.3) rotate(-90)" x="0" y="0" font-size="4.4" text-anchor="middle" font-weight="normal" fill="#000" style="stroke-width:0.12px">ATP secretion (nmole)</text>
<text x="226.5" y="368.47" font-size="3.8" text-anchor="middle" font-weight="normal" fill="#000">Shp1 WT</text>
<text x="246.1" y="368.47" font-size="3.8" text-anchor="middle" font-weight="normal" fill="#000">Shp1 KO</text>
<text x="267.4" y="83.58" font-size="8" text-anchor="middle" font-weight="bold" fill="#000" style="stroke-width:0.1px">C</text>
<text x="272.1" y="91.22" font-size="6.6" text-anchor="middle" font-weight="normal" fill="#222" style="stroke:#222;stroke-width:0.3px">(i)</text>
<text x="288.5" y="103.64" font-size="4" text-anchor="middle" font-weight="bold" fill="#000">0.3 µg/mL</text>
<text x="289.2" y="107.94" font-size="4" text-anchor="middle" font-weight="bold" fill="#000">CRP</text>
<path d="M286.7 109.25 L289.7 109.25 L288.2 111.95 Z" fill="#000"/>
<text x="278.8" y="118.44" font-size="4" text-anchor="middle" font-weight="bold" fill="#000">0</text>
<text x="278.7" y="143.24" font-size="4" text-anchor="middle" font-weight="bold" fill="#000">70</text>
<line x1="282.9" y1="116.4" x2="282.9" y2="141.8" stroke="#777" stroke-width="0.9"/>
<text transform="translate(272.6 130.3) rotate(-90)" x="0" y="0" font-size="3.9" text-anchor="middle" font-weight="bold" fill="#000">% aggregation</text>
<path d="M285.8 115.8 C286.42 115.68 288.52 115.47 289.5 115.1 C290.48 114.73 290.95 113.73 291.7 113.6 C292.45 113.47 293.12 113.82 294 114.3 C294.88 114.78 296.02 115.02 297 116.5 C297.98 117.98 298.92 120.72 299.9 123.2 C300.88 125.68 301.78 129.05 302.9 131.4 C304.02 133.75 305.5 135.98 306.6 137.3 C307.7 138.62 308.47 138.75 309.5 139.3 C310.53 139.85 312.25 140.38 312.8 140.6" fill="none" stroke="#888" stroke-width="0.7" stroke-linecap="round" stroke-linejoin="round"/>
<path d="M294 114.3 C294.25 115.3 295 117.82 295.5 120.3 C296 122.78 296.13 126.48 297 129.2 C297.87 131.92 299.1 134.87 300.7 136.6 C302.3 138.33 304.5 138.85 306.6 139.6 C308.7 140.35 312.18 140.85 313.3 141.1" fill="none" stroke="#111" stroke-width="0.8" stroke-linecap="round" stroke-linejoin="round"/>
<path d="M303.5 138.5 C304.02 138.68 304.97 139.17 306.6 139.6 C308.23 140.03 312.18 140.85 313.3 141.1" fill="none" stroke="#000" stroke-width="1.2" stroke-linecap="round" stroke-linejoin="round"/>
<text x="311.4" y="130.34" font-size="4" text-anchor="middle" font-weight="bold" fill="#000">Shp2 KO</text>
<text x="310.7" y="147.74" font-size="4" text-anchor="middle" font-weight="bold" fill="#000">Shp2 WT</text>
<text x="348" y="103.04" font-size="4" text-anchor="middle" font-weight="bold" fill="#000">3 µg/mL</text>
<text x="349" y="107.74" font-size="4" text-anchor="middle" font-weight="bold" fill="#000">convulxin</text>
<path d="M347.1 109.45 L350.1 109.45 L348.6 112.15 Z" fill="#000"/>
<path d="M347.8 115.3 C347.93 115.08 348.23 114.23 348.6 114 C348.97 113.77 349.38 113.9 350 113.9 C350.62 113.9 351.55 113.53 352.3 114 C353.05 114.47 353.77 115.13 354.5 116.7 C355.23 118.27 355.98 121.18 356.7 123.4 C357.42 125.62 358.05 127.63 358.8 130 C359.55 132.37 360.5 135.77 361.2 137.6 C361.9 139.43 362.7 140.43 363 141" fill="none" stroke="#555" stroke-width="0.8" stroke-linecap="round" stroke-linejoin="round"/>
<path d="M360 135 C360.2 135.47 360.4 136.35 361.2 137.8 C362 139.25 363.75 142.3 364.8 143.7 C365.85 145.1 366.58 145.48 367.5 146.2 C368.42 146.92 369.83 147.7 370.3 148" fill="none" stroke="#000" stroke-width="1.3" stroke-linecap="round" stroke-linejoin="round"/>
<text x="374.7" y="140.64" font-size="4" text-anchor="middle" font-weight="bold" fill="#000">Shp2 WT</text>
<text x="362.5" y="155.24" font-size="4" text-anchor="middle" font-weight="bold" fill="#000">Shp2 KO</text>
<text x="408.9" y="103.04" font-size="4" text-anchor="middle" font-weight="bold" fill="#000">3 µg/mL</text>
<text x="409.4" y="108.04" font-size="4" text-anchor="middle" font-weight="bold" fill="#000">collagen</text>
<path d="M407.6 109.95 L410.6 109.95 L409.1 112.65 Z" fill="#000"/>
<path d="M408.7 116.7 C409.02 116.65 409.97 116.63 410.6 116.4 C411.23 116.17 412 114.87 412.5 115.3 C413 115.73 413.25 117.55 413.6 119 C413.95 120.45 414.32 122.32 414.6 124 C414.88 125.68 415.03 127.6 415.3 129.1 C415.57 130.6 416.05 132.35 416.2 133" fill="none" stroke="#999" stroke-width="0.7" stroke-linecap="round" stroke-linejoin="round"/>
<path d="M416 132.5 C416.22 133 416.72 134.6 417.3 135.5 C417.88 136.4 418.63 137.22 419.5 137.9 C420.37 138.58 421.25 139.08 422.5 139.6 C423.75 140.12 425.38 140.6 427 141 C428.62 141.4 431.33 141.83 432.2 142" fill="none" stroke="#000" stroke-width="1.5" stroke-linecap="round" stroke-linejoin="round"/>
<path d="M416.2 133.5 C416.43 134.42 416.88 137.52 417.6 139 C418.32 140.48 419.3 141.47 420.5 142.4 C421.7 143.33 422.95 144 424.8 144.6 C426.65 145.2 430.47 145.77 431.6 146" fill="none" stroke="#000" stroke-width="1.5" stroke-linecap="round" stroke-linejoin="round"/>
<text x="430" y="135.84" font-size="4" text-anchor="middle" font-weight="bold" fill="#000">Shp2 WT</text>
<text x="430" y="152.14" font-size="4" text-anchor="middle" font-weight="bold" fill="#000">Shp2 KO</text>
<text x="468.2" y="103.14" font-size="4" text-anchor="middle" font-weight="bold" fill="#000">3 µg/mL</text>
<text x="469" y="107.54" font-size="4" text-anchor="middle" font-weight="bold" fill="#000">CLEC-2 Ab</text>
<path d="M466.8 109.55 L469.8 109.55 L468.3 112.25 Z" fill="#000"/>
<path d="M467.3 117.2 C467.75 117.1 469.18 116.98 470 116.6 C470.82 116.22 471.63 114.85 472.2 114.9 C472.77 114.95 472.43 116.58 473.4 116.9 C474.37 117.22 476.48 116.85 478 116.8 C479.52 116.75 481.35 115.93 482.5 116.6 C483.65 117.27 484.18 119.08 484.9 120.8 C485.62 122.52 486.18 124.93 486.8 126.9 C487.42 128.87 487.9 131.02 488.6 132.6 C489.3 134.18 489.98 135.42 491 136.4 C492.02 137.38 494.08 138.15 494.7 138.5" fill="none" stroke="#999" stroke-width="0.7" stroke-linecap="round" stroke-linejoin="round"/>
<path d="M467.3 117.2 L469.5 116.4 L471.2 114.9" fill="none" stroke="#333" stroke-width="0.9" stroke-linecap="round" stroke-linejoin="round"/>
<path d="M473.4 117 C473.6 117.83 474.2 119.95 474.6 122 C475 124.05 475.2 127.17 475.8 129.3 C476.4 131.43 476.78 133.18 478.2 134.8 C479.62 136.42 481.87 137.88 484.3 139 C486.73 140.12 491.38 141.08 492.8 141.5" fill="none" stroke="#999" stroke-width="0.7" stroke-linecap="round" stroke-linejoin="round"/>
<path d="M477.5 133.6 C477.92 134.1 478.87 135.7 480 136.6 C481.13 137.5 482.87 138.35 484.3 139 C485.73 139.65 487.18 140.08 488.6 140.5 C490.02 140.92 492.1 141.33 492.8 141.5" fill="none" stroke="#000" stroke-width="1.3" stroke-linecap="round" stroke-linejoin="round"/>
<text x="497.1" y="130.74" font-size="4" text-anchor="middle" font-weight="bold" fill="#000">Shp2 WT</text>
<text x="497.1" y="148.44" font-size="4" text-anchor="middle" font-weight="bold" fill="#000">Shp2 KO</text>
<text transform="translate(269.12 177.1) rotate(-90)" x="0" y="0" font-size="3.4" text-anchor="middle" font-weight="bold" fill="#000">ATP</text>
<text transform="translate(274.1 177.5) rotate(-90)" x="0" y="0" font-size="3.6" text-anchor="middle" font-weight="bold" fill="#000">(nM)</text>
<text x="278.2" y="173.32" font-size="3.4" text-anchor="middle" font-weight="bold" fill="#000">1.6</text>
<text x="278.3" y="183.92" font-size="3.4" text-anchor="middle" font-weight="bold" fill="#000">0</text>
<line x1="282.6" y1="172.1" x2="282.6" y2="182.3" stroke="#444" stroke-width="0.6"/>
<line x1="286.2" y1="188.5" x2="290.1" y2="188.5" stroke="#333" stroke-width="0.6"/>
<text x="289.4" y="193.76" font-size="3.5" text-anchor="middle" font-weight="bold" fill="#000">1 min</text>
<path d="M285.1 183.2 L290.8 182.9" fill="none" stroke="#777" stroke-width="0.6" stroke-linecap="round" stroke-linejoin="round"/>
<path d="M290.8 182.9 C291.25 182.32 292.47 180.47 293.5 179.4 C294.53 178.33 295.58 177.12 297 176.5 C298.42 175.88 300.27 175.8 302 175.7 C303.73 175.6 305.35 175.73 307.4 175.9 C309.45 176.07 313.15 176.57 314.3 176.7" fill="none" stroke="#777" stroke-width="0.6" stroke-linecap="round" stroke-linejoin="round"/>
<path d="M290.8 182.9 C291.63 182.82 294.18 182.85 295.8 182.4 C297.42 181.95 298.95 180.85 300.5 180.2 C302.05 179.55 303.7 178.92 305.1 178.5 C306.5 178.08 307.37 177.93 308.9 177.7 C310.43 177.47 313.4 177.2 314.3 177.1" fill="none" stroke="#888" stroke-width="0.6" stroke-linecap="round" stroke-linejoin="round"/>
<text x="310.8" y="170.64" font-size="4" text-anchor="middle" font-weight="bold" fill="#000">Shp2 WT</text>
<text x="310.8" y="186.24" font-size="4" text-anchor="middle" font-weight="bold" fill="#000">Shp2 KO</text>
<path d="M348.8 183.5 L349.8 180.6 L353.8 181.3" fill="none" stroke="#555" stroke-width="0.6" stroke-linecap="round" stroke-linejoin="round"/>
<path d="M353.8 181.3 C354.63 180.67 357.13 178.45 358.8 177.5 C360.47 176.55 361.62 176.02 363.8 175.6 C365.98 175.18 370.55 175.1 371.9 175" fill="none" stroke="#777" stroke-width="0.5" stroke-linecap="round" stroke-linejoin="round"/>
<path d="M353.8 181.3 C355.05 180.77 358.28 178.83 361.3 178.1 C364.32 177.37 370.13 177.1 371.9 176.9" fill="none" stroke="#999" stroke-width="0.5" stroke-linecap="round" stroke-linejoin="round"/>
<text x="368.4" y="172.74" font-size="4" text-anchor="middle" font-weight="bold" fill="#000">Shp2 KO</text>
<text x="368.4" y="186.24" font-size="4" text-anchor="middle" font-weight="bold" fill="#000">Shp2 WT</text>
<path d="M408.5 183.8 C408.85 183.38 409.83 182.13 410.6 181.3 C411.37 180.47 412.37 179.95 413.1 178.8 C413.83 177.65 414.27 175.45 415 174.4 C415.73 173.35 416 172.85 417.5 172.5 C419 172.15 421.82 172.33 424 172.3 C426.18 172.27 429.5 172.3 430.6 172.3" fill="none" stroke="#666" stroke-width="0.6" stroke-linecap="round" stroke-linejoin="round"/>
<path d="M417 174.4 L424 174.4 L430.6 174.4" fill="none" stroke="#777" stroke-width="0.5" stroke-linecap="round" stroke-linejoin="round"/>
<text x="429.7" y="169.54" font-size="4" text-anchor="middle" font-weight="bold" fill="#000">Shp2 KO</text>
<text x="429.7" y="182.74" font-size="4" text-anchor="middle" font-weight="bold" fill="#000">Shp2 WT</text>
<path d="M466.3 184 L468.8 182.8 L471.3 182.8" fill="none" stroke="#666" stroke-width="0.6" stroke-linecap="round" stroke-linejoin="round"/>
<path d="M471.3 182.8 C471.72 182.23 473.08 181.02 473.8 179.4 C474.52 177.78 474.67 174.67 475.6 173.1 C476.53 171.53 477.83 170.62 479.4 170 C480.97 169.38 482.82 169.23 485 169.4 C487.18 169.57 491.25 170.73 492.5 171" fill="none" stroke="#888" stroke-width="0.6" stroke-linecap="round" stroke-linejoin="round"/>
<path d="M471.3 182.8 C472.75 182.8 477.72 182.83 480 182.8 C482.28 182.77 483.75 183.38 485 182.6 C486.25 181.82 486.25 179.68 487.5 178.1 C488.75 176.52 491.67 173.93 492.5 173.1" fill="none" stroke="#888" stroke-width="0.6" stroke-linecap="round" stroke-linejoin="round"/>
<text x="497.2" y="167.44" font-size="4" text-anchor="middle" font-weight="bold" fill="#000">Shp2 KO</text>
<text x="497.2" y="186.44" font-size="4" text-anchor="middle" font-weight="bold" fill="#000">Shp2 WT</text>
<text x="273.2" y="207.52" font-size="6.6" text-anchor="middle" font-weight="normal" fill="#222" style="stroke:#222;stroke-width:0.3px">(ii)</text>
<line x1="277.6" y1="217.6" x2="277.6" y2="277.4" stroke="#222" stroke-width="0.7"/>
<line x1="277.6" y1="277.4" x2="318" y2="277.4" stroke="#222" stroke-width="0.7"/>
<line x1="276.3" y1="217.6" x2="277.6" y2="217.6" stroke="#222" stroke-width="0.6"/>
<text x="275.7" y="218.79" font-size="3.3" text-anchor="end" font-weight="bold" fill="#000">125</text>
<line x1="276.3" y1="229.6" x2="277.6" y2="229.6" stroke="#222" stroke-width="0.6"/>
<text x="275.7" y="230.79" font-size="3.3" text-anchor="end" font-weight="bold" fill="#000">100</text>
<line x1="276.3" y1="241.5" x2="277.6" y2="241.5" stroke="#222" stroke-width="0.6"/>
<text x="275.7" y="242.69" font-size="3.3" text-anchor="end" font-weight="bold" fill="#000">75</text>
<line x1="276.3" y1="253.5" x2="277.6" y2="253.5" stroke="#222" stroke-width="0.6"/>
<text x="275.7" y="254.69" font-size="3.3" text-anchor="end" font-weight="bold" fill="#000">50</text>
<line x1="276.3" y1="265.4" x2="277.6" y2="265.4" stroke="#222" stroke-width="0.6"/>
<text x="275.7" y="266.59" font-size="3.3" text-anchor="end" font-weight="bold" fill="#000">25</text>
<line x1="276.3" y1="277.4" x2="277.6" y2="277.4" stroke="#222" stroke-width="0.6"/>
<text x="275.7" y="278.59" font-size="3.3" text-anchor="end" font-weight="bold" fill="#000">0</text>
<line x1="287.5" y1="228.4" x2="287.5" y2="232.7" stroke="#111" stroke-width="0.8"/>
<line x1="283.68" y1="228.4" x2="291.02" y2="228.4" stroke="#111" stroke-width="0.7"/>
<rect x="280.7" y="233.1" width="13.3" height="44.3" fill="#fff" stroke="#222" stroke-width="0.8"/>
<line x1="307.5" y1="218.4" x2="307.5" y2="224.7" stroke="#111" stroke-width="0.8"/>
<line x1="304.03" y1="218.4" x2="311.47" y2="218.4" stroke="#111" stroke-width="0.7"/>
<rect x="300.6" y="224.7" width="14.3" height="52.7" fill="#000"/>
<text transform="translate(267.38 248) rotate(-90)" x="0" y="0" font-size="4.4" text-anchor="middle" font-weight="normal" fill="#000" style="stroke-width:0.12px">Time to 20% aggregation (sec)</text>
<text x="287.7" y="285.5" font-size="3.6" text-anchor="middle" font-weight="normal" fill="#000">Shp2 WT</text>
<text x="307.9" y="285.5" font-size="3.6" text-anchor="middle" font-weight="normal" fill="#000">Shp2 KO</text>
<line x1="345.5" y1="217.6" x2="345.5" y2="277.4" stroke="#222" stroke-width="0.7"/>
<line x1="345.5" y1="277.4" x2="386" y2="277.4" stroke="#222" stroke-width="0.7"/>
<line x1="344.2" y1="217.6" x2="345.5" y2="217.6" stroke="#222" stroke-width="0.6"/>
<text x="343.6" y="218.79" font-size="3.3" text-anchor="end" font-weight="bold" fill="#000">120</text>
<line x1="344.2" y1="227.6" x2="345.5" y2="227.6" stroke="#222" stroke-width="0.6"/>
<text x="343.6" y="228.79" font-size="3.3" text-anchor="end" font-weight="bold" fill="#000">100</text>
<line x1="344.2" y1="237.5" x2="345.5" y2="237.5" stroke="#222" stroke-width="0.6"/>
<text x="343.6" y="238.69" font-size="3.3" text-anchor="end" font-weight="bold" fill="#000">80</text>
<line x1="344.2" y1="247.5" x2="345.5" y2="247.5" stroke="#222" stroke-width="0.6"/>
<text x="343.6" y="248.69" font-size="3.3" text-anchor="end" font-weight="bold" fill="#000">60</text>
<line x1="344.2" y1="257.5" x2="345.5" y2="257.5" stroke="#222" stroke-width="0.6"/>
<text x="343.6" y="258.69" font-size="3.3" text-anchor="end" font-weight="bold" fill="#000">40</text>
<line x1="344.2" y1="267.4" x2="345.5" y2="267.4" stroke="#222" stroke-width="0.6"/>
<text x="343.6" y="268.59" font-size="3.3" text-anchor="end" font-weight="bold" fill="#000">20</text>
<line x1="344.2" y1="277.4" x2="345.5" y2="277.4" stroke="#222" stroke-width="0.6"/>
<text x="343.6" y="278.59" font-size="3.3" text-anchor="end" font-weight="bold" fill="#000">0</text>
<line x1="355.5" y1="226.2" x2="355.5" y2="230.5" stroke="#111" stroke-width="0.8"/>
<line x1="351.78" y1="226.2" x2="359.32" y2="226.2" stroke="#111" stroke-width="0.7"/>
<rect x="348.7" y="230.9" width="13.7" height="46.5" fill="#fff" stroke="#222" stroke-width="0.8"/>
<line x1="375.5" y1="224" x2="375.5" y2="228.4" stroke="#111" stroke-width="0.8"/>
<line x1="372.03" y1="224" x2="379.47" y2="224" stroke="#111" stroke-width="0.7"/>
<rect x="368.6" y="228.4" width="14.3" height="49" fill="#000"/>
<text transform="translate(335.38 248) rotate(-90)" x="0" y="0" font-size="4.4" text-anchor="middle" font-weight="normal" fill="#000" style="stroke-width:0.12px">Time to 20% aggregation (sec)</text>
<text x="355.3" y="284.9" font-size="3.6" text-anchor="middle" font-weight="normal" fill="#000">Shp2 WT</text>
<text x="375.7" y="284.9" font-size="3.6" text-anchor="middle" font-weight="normal" fill="#000">Shp2 KO</text>
<line x1="411.5" y1="218.5" x2="411.5" y2="277.5" stroke="#222" stroke-width="0.7"/>
<line x1="411.5" y1="277.5" x2="452" y2="277.5" stroke="#222" stroke-width="0.7"/>
<line x1="410.2" y1="218.5" x2="411.5" y2="218.5" stroke="#222" stroke-width="0.6"/>
<text x="409.6" y="219.69" font-size="3.3" text-anchor="end" font-weight="bold" fill="#000">200</text>
<line x1="410.2" y1="233.3" x2="411.5" y2="233.3" stroke="#222" stroke-width="0.6"/>
<text x="409.6" y="234.49" font-size="3.3" text-anchor="end" font-weight="bold" fill="#000">150</text>
<line x1="410.2" y1="248" x2="411.5" y2="248" stroke="#222" stroke-width="0.6"/>
<text x="409.6" y="249.19" font-size="3.3" text-anchor="end" font-weight="bold" fill="#000">100</text>
<line x1="410.2" y1="262.8" x2="411.5" y2="262.8" stroke="#222" stroke-width="0.6"/>
<text x="409.6" y="263.99" font-size="3.3" text-anchor="end" font-weight="bold" fill="#000">50</text>
<line x1="410.2" y1="277.5" x2="411.5" y2="277.5" stroke="#222" stroke-width="0.6"/>
<text x="409.6" y="278.69" font-size="3.3" text-anchor="end" font-weight="bold" fill="#000">0</text>
<line x1="421.5" y1="234.4" x2="421.5" y2="238.7" stroke="#111" stroke-width="0.8"/>
<line x1="418.21" y1="234.4" x2="425.39" y2="234.4" stroke="#111" stroke-width="0.7"/>
<rect x="415.3" y="239.1" width="13" height="38.4" fill="#fff" stroke="#222" stroke-width="0.8"/>
<line x1="441.5" y1="238.8" x2="441.5" y2="241.3" stroke="#111" stroke-width="0.8"/>
<line x1="438.36" y1="238.8" x2="445.44" y2="238.8" stroke="#111" stroke-width="0.7"/>
<rect x="435.1" y="241.3" width="13.6" height="36.2" fill="#000"/>
<text transform="translate(401.08 248) rotate(-90)" x="0" y="0" font-size="4.4" text-anchor="middle" font-weight="normal" fill="#000" style="stroke-width:0.12px">Time to 20% aggregation (sec)</text>
<text x="421.8" y="284.9" font-size="3.6" text-anchor="middle" font-weight="normal" fill="#000">Shp2 WT</text>
<text x="442" y="284.9" font-size="3.6" text-anchor="middle" font-weight="normal" fill="#000">Shp2 KO</text>
<line x1="479.2" y1="218.2" x2="479.2" y2="277.4" stroke="#222" stroke-width="0.7"/>
<line x1="479.2" y1="277.4" x2="519" y2="277.4" stroke="#222" stroke-width="0.7"/>
<line x1="477.9" y1="218.2" x2="479.2" y2="218.2" stroke="#222" stroke-width="0.6"/>
<text x="477.3" y="219.39" font-size="3.3" text-anchor="end" font-weight="bold" fill="#000">250</text>
<line x1="477.9" y1="230" x2="479.2" y2="230" stroke="#222" stroke-width="0.6"/>
<text x="477.3" y="231.19" font-size="3.3" text-anchor="end" font-weight="bold" fill="#000">200</text>
<line x1="477.9" y1="241.9" x2="479.2" y2="241.9" stroke="#222" stroke-width="0.6"/>
<text x="477.3" y="243.09" font-size="3.3" text-anchor="end" font-weight="bold" fill="#000">150</text>
<line x1="477.9" y1="253.7" x2="479.2" y2="253.7" stroke="#222" stroke-width="0.6"/>
<text x="477.3" y="254.89" font-size="3.3" text-anchor="end" font-weight="bold" fill="#000">100</text>
<line x1="477.9" y1="265.6" x2="479.2" y2="265.6" stroke="#222" stroke-width="0.6"/>
<text x="477.3" y="266.79" font-size="3.3" text-anchor="end" font-weight="bold" fill="#000">50</text>
<line x1="477.9" y1="277.4" x2="479.2" y2="277.4" stroke="#222" stroke-width="0.6"/>
<text x="477.3" y="278.59" font-size="3.3" text-anchor="end" font-weight="bold" fill="#000">0</text>
<line x1="489.5" y1="229.3" x2="489.5" y2="234.8" stroke="#111" stroke-width="0.8"/>
<line x1="486.16" y1="229.3" x2="493.24" y2="229.3" stroke="#111" stroke-width="0.7"/>
<rect x="483.3" y="235.2" width="12.8" height="42.2" fill="#fff" stroke="#222" stroke-width="0.8"/>
<line x1="509.5" y1="250.4" x2="509.5" y2="253.3" stroke="#111" stroke-width="0.8"/>
<line x1="506.32" y1="250.4" x2="513.28" y2="250.4" stroke="#111" stroke-width="0.7"/>
<rect x="503.1" y="253.3" width="13.4" height="24.1" fill="#000"/>
<circle cx="507.05" cy="245.8" r="0.95" fill="#000"/>
<circle cx="509.4" cy="245.8" r="0.95" fill="#000"/>
<circle cx="511.75" cy="245.8" r="0.95" fill="#000"/>
<text transform="translate(468.88 247.5) rotate(-90)" x="0" y="0" font-size="4.4" text-anchor="middle" font-weight="normal" fill="#000" style="stroke-width:0.12px">Time to 20% aggregation (sec)</text>
<text x="488.7" y="285.8" font-size="3.6" text-anchor="middle" font-weight="normal" fill="#000">Shp2 WT</text>
<text x="509.5" y="285.8" font-size="3.6" text-anchor="middle" font-weight="normal" fill="#000">Shp2 KO</text>
<line x1="277.8" y1="300.1" x2="277.8" y2="359.5" stroke="#222" stroke-width="0.7"/>
<line x1="277.8" y1="359.5" x2="318" y2="359.5" stroke="#222" stroke-width="0.7"/>
<line x1="276.5" y1="300.1" x2="277.8" y2="300.1" stroke="#222" stroke-width="0.6"/>
<text x="275.9" y="301.29" font-size="3.3" text-anchor="end" font-weight="bold" fill="#000">5</text>
<line x1="276.5" y1="312" x2="277.8" y2="312" stroke="#222" stroke-width="0.6"/>
<text x="275.9" y="313.19" font-size="3.3" text-anchor="end" font-weight="bold" fill="#000">4</text>
<line x1="276.5" y1="323.9" x2="277.8" y2="323.9" stroke="#222" stroke-width="0.6"/>
<text x="275.9" y="325.09" font-size="3.3" text-anchor="end" font-weight="bold" fill="#000">3</text>
<line x1="276.5" y1="335.7" x2="277.8" y2="335.7" stroke="#222" stroke-width="0.6"/>
<text x="275.9" y="336.89" font-size="3.3" text-anchor="end" font-weight="bold" fill="#000">2</text>
<line x1="276.5" y1="347.6" x2="277.8" y2="347.6" stroke="#222" stroke-width="0.6"/>
<text x="275.9" y="348.79" font-size="3.3" text-anchor="end" font-weight="bold" fill="#000">1</text>
<line x1="276.5" y1="359.5" x2="277.8" y2="359.5" stroke="#222" stroke-width="0.6"/>
<text x="275.9" y="360.69" font-size="3.3" text-anchor="end" font-weight="bold" fill="#000">0</text>
<line x1="288.5" y1="301.8" x2="288.5" y2="307.7" stroke="#111" stroke-width="0.8"/>
<line x1="284.46" y1="301.8" x2="291.54" y2="301.8" stroke="#111" stroke-width="0.7"/>
<rect x="281.6" y="308.1" width="12.8" height="51.4" fill="#fff" stroke="#222" stroke-width="0.8"/>
<line x1="307.5" y1="310.2" x2="307.5" y2="313.3" stroke="#111" stroke-width="0.8"/>
<line x1="304.29" y1="310.2" x2="311.41" y2="310.2" stroke="#111" stroke-width="0.7"/>
<rect x="301" y="313.3" width="13.7" height="46.2" fill="#000"/>
<text transform="translate(272.28 330) rotate(-90)" x="0" y="0" font-size="4.4" text-anchor="middle" font-weight="normal" fill="#000" style="stroke-width:0.12px">ATP secretion (nmole)</text>
<text x="287.9" y="368.1" font-size="3.6" text-anchor="middle" font-weight="normal" fill="#000">Shp2 WT</text>
<text x="307.7" y="368.1" font-size="3.6" text-anchor="middle" font-weight="normal" fill="#000">Shp2 KO</text>
<line x1="345.4" y1="300.1" x2="345.4" y2="359.6" stroke="#222" stroke-width="0.7"/>
<line x1="345.4" y1="359.6" x2="386" y2="359.6" stroke="#222" stroke-width="0.7"/>
<line x1="344.1" y1="300.1" x2="345.4" y2="300.1" stroke="#222" stroke-width="0.6"/>
<text x="343.5" y="301.29" font-size="3.3" text-anchor="end" font-weight="bold" fill="#000">7</text>
<line x1="344.1" y1="308.7" x2="345.4" y2="308.7" stroke="#222" stroke-width="0.6"/>
<text x="343.5" y="309.89" font-size="3.3" text-anchor="end" font-weight="bold" fill="#000">6</text>
<line x1="344.1" y1="317.3" x2="345.4" y2="317.3" stroke="#222" stroke-width="0.6"/>
<text x="343.5" y="318.49" font-size="3.3" text-anchor="end" font-weight="bold" fill="#000">5</text>
<line x1="344.1" y1="325.9" x2="345.4" y2="325.9" stroke="#222" stroke-width="0.6"/>
<text x="343.5" y="327.09" font-size="3.3" text-anchor="end" font-weight="bold" fill="#000">4</text>
<line x1="344.1" y1="334.4" x2="345.4" y2="334.4" stroke="#222" stroke-width="0.6"/>
<text x="343.5" y="335.59" font-size="3.3" text-anchor="end" font-weight="bold" fill="#000">3</text>
<line x1="344.1" y1="342.9" x2="345.4" y2="342.9" stroke="#222" stroke-width="0.6"/>
<text x="343.5" y="344.09" font-size="3.3" text-anchor="end" font-weight="bold" fill="#000">2</text>
<line x1="344.1" y1="351.3" x2="345.4" y2="351.3" stroke="#222" stroke-width="0.6"/>
<text x="343.5" y="352.49" font-size="3.3" text-anchor="end" font-weight="bold" fill="#000">1</text>
<line x1="344.1" y1="359.6" x2="345.4" y2="359.6" stroke="#222" stroke-width="0.6"/>
<text x="343.5" y="360.79" font-size="3.3" text-anchor="end" font-weight="bold" fill="#000">0</text>
<line x1="355.5" y1="318.8" x2="355.5" y2="324.1" stroke="#111" stroke-width="0.8"/>
<line x1="351.59" y1="318.8" x2="358.71" y2="318.8" stroke="#111" stroke-width="0.7"/>
<rect x="348.7" y="324.5" width="12.9" height="35.1" fill="#fff" stroke="#222" stroke-width="0.8"/>
<line x1="375.5" y1="308.4" x2="375.5" y2="318.4" stroke="#111" stroke-width="0.8"/>
<line x1="371.76" y1="308.4" x2="378.84" y2="308.4" stroke="#111" stroke-width="0.7"/>
<rect x="368.5" y="318.4" width="13.6" height="41.2" fill="#000"/>
<text transform="translate(338.28 329.8) rotate(-90)" x="0" y="0" font-size="4.4" text-anchor="middle" font-weight="normal" fill="#000" style="stroke-width:0.12px">ATP secretion (nmole)</text>
<text x="355.2" y="368.1" font-size="3.6" text-anchor="middle" font-weight="normal" fill="#000">Shp2 WT</text>
<text x="375.8" y="368.1" font-size="3.6" text-anchor="middle" font-weight="normal" fill="#000">Shp2 KO</text>
<line x1="411.6" y1="300.2" x2="411.6" y2="359.5" stroke="#222" stroke-width="0.7"/>
<line x1="411.6" y1="359.5" x2="452" y2="359.5" stroke="#222" stroke-width="0.7"/>
<line x1="410.3" y1="300.2" x2="411.6" y2="300.2" stroke="#222" stroke-width="0.6"/>
<text x="409.7" y="301.39" font-size="3.3" text-anchor="end" font-weight="bold" fill="#000">6</text>
<line x1="410.3" y1="320" x2="411.6" y2="320" stroke="#222" stroke-width="0.6"/>
<text x="409.7" y="321.19" font-size="3.3" text-anchor="end" font-weight="bold" fill="#000">4</text>
<line x1="410.3" y1="339.7" x2="411.6" y2="339.7" stroke="#222" stroke-width="0.6"/>
<text x="409.7" y="340.89" font-size="3.3" text-anchor="end" font-weight="bold" fill="#000">2</text>
<line x1="410.3" y1="359.5" x2="411.6" y2="359.5" stroke="#222" stroke-width="0.6"/>
<text x="409.7" y="360.69" font-size="3.3" text-anchor="end" font-weight="bold" fill="#000">0</text>
<line x1="421.5" y1="305.6" x2="421.5" y2="310.5" stroke="#111" stroke-width="0.8"/>
<line x1="418.6" y1="305.6" x2="425.3" y2="305.6" stroke="#111" stroke-width="0.7"/>
<rect x="415.9" y="310.9" width="12.1" height="48.6" fill="#fff" stroke="#222" stroke-width="0.8"/>
<line x1="441.5" y1="304.7" x2="441.5" y2="311" stroke="#111" stroke-width="0.8"/>
<line x1="438.5" y1="304.7" x2="445.2" y2="304.7" stroke="#111" stroke-width="0.7"/>
<rect x="435.4" y="311" width="12.9" height="48.5" fill="#000"/>
<text transform="translate(405.18 329.6) rotate(-90)" x="0" y="0" font-size="4.4" text-anchor="middle" font-weight="normal" fill="#000" style="stroke-width:0.12px">ATP secretion (nmole)</text>
<text x="422" y="368.6" font-size="3.6" text-anchor="middle" font-weight="normal" fill="#000">Shp2 WT</text>
<text x="441.9" y="368.6" font-size="3.6" text-anchor="middle" font-weight="normal" fill="#000">Shp2 KO</text>
<line x1="479.3" y1="300.1" x2="479.3" y2="359.6" stroke="#222" stroke-width="0.7"/>
<line x1="479.3" y1="359.6" x2="519" y2="359.6" stroke="#222" stroke-width="0.7"/>
<line x1="478" y1="300.1" x2="479.3" y2="300.1" stroke="#222" stroke-width="0.6"/>
<text x="477.4" y="301.29" font-size="3.3" text-anchor="end" font-weight="bold" fill="#000">5</text>
<line x1="478" y1="312" x2="479.3" y2="312" stroke="#222" stroke-width="0.6"/>
<text x="477.4" y="313.19" font-size="3.3" text-anchor="end" font-weight="bold" fill="#000">4</text>
<line x1="478" y1="323.9" x2="479.3" y2="323.9" stroke="#222" stroke-width="0.6"/>
<text x="477.4" y="325.09" font-size="3.3" text-anchor="end" font-weight="bold" fill="#000">3</text>
<line x1="478" y1="335.8" x2="479.3" y2="335.8" stroke="#222" stroke-width="0.6"/>
<text x="477.4" y="336.99" font-size="3.3" text-anchor="end" font-weight="bold" fill="#000">2</text>
<line x1="478" y1="347.7" x2="479.3" y2="347.7" stroke="#222" stroke-width="0.6"/>
<text x="477.4" y="348.89" font-size="3.3" text-anchor="end" font-weight="bold" fill="#000">1</text>
<line x1="478" y1="359.6" x2="479.3" y2="359.6" stroke="#222" stroke-width="0.6"/>
<text x="477.4" y="360.79" font-size="3.3" text-anchor="end" font-weight="bold" fill="#000">0</text>
<line x1="489.5" y1="313.6" x2="489.5" y2="316.4" stroke="#111" stroke-width="0.8"/>
<line x1="485.86" y1="313.6" x2="493.14" y2="313.6" stroke="#111" stroke-width="0.7"/>
<rect x="482.9" y="316.8" width="13.2" height="42.8" fill="#fff" stroke="#222" stroke-width="0.8"/>
<line x1="509.5" y1="321.2" x2="509.5" y2="323" stroke="#111" stroke-width="0.8"/>
<line x1="505.79" y1="321.2" x2="512.91" y2="321.2" stroke="#111" stroke-width="0.7"/>
<rect x="502.5" y="323" width="13.7" height="36.6" fill="#000"/>
<text transform="translate(473.78 329.8) rotate(-90)" x="0" y="0" font-size="4.4" text-anchor="middle" font-weight="normal" fill="#000" style="stroke-width:0.12px">ATP secretion (nmole)</text>
<text x="489.5" y="368.6" font-size="3.6" text-anchor="middle" font-weight="normal" fill="#000">Shp2 WT</text>
<text x="508.5" y="368.6" font-size="3.6" text-anchor="middle" font-weight="normal" fill="#000">Shp2 KO</text>
</svg>
</body></html>
